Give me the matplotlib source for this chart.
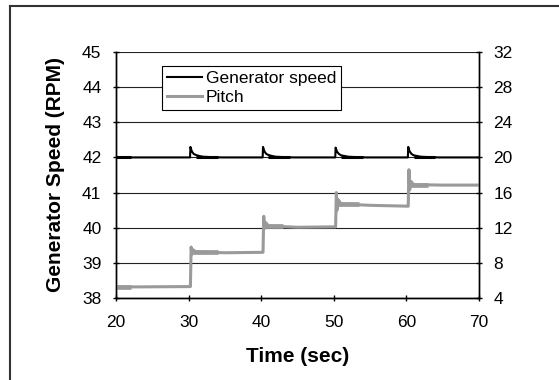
import matplotlib
matplotlib.use("Agg")
import matplotlib.pyplot as plt
from matplotlib.lines import Line2D

plt.rcParams['font.family'] = ['Liberation Sans', 'DejaVu Sans']

# generator speed (RPM), left axis
gen_time = [20.0, 30.2, 30.25, 30.45, 30.7, 31.0, 31.5, 32.0, 33.0, 34.5,
            40.2, 40.25, 40.45, 40.7, 41.0, 41.5, 42.0, 43.0, 44.5,
            50.2, 50.25, 50.45, 50.7, 51.0, 51.5, 52.0, 53.0, 54.5,
            60.2, 60.25, 60.45, 60.7, 61.0, 61.5, 62.0, 63.0, 64.5, 70.0]
gen_speed = [42.0, 42.0, 42.3, 42.17, 42.1, 42.07, 42.04, 42.02, 42.01, 42.0,
             42.0, 42.3, 42.17, 42.1, 42.07, 42.04, 42.02, 42.01, 42.0,
             42.0, 42.28, 42.16, 42.1, 42.06, 42.04, 42.02, 42.01, 42.0,
             42.0, 42.3, 42.17, 42.1, 42.06, 42.04, 42.02, 42.01, 42.0, 42.0]
# noisy stretches of generator speed (start, end, level)
gen_band_start = [20.0, 31.0, 41.0, 51.0, 61.0]
gen_band_end = [22.0, 34.0, 44.0, 54.0, 64.0]
gen_band_level = [42.0, 42.015, 42.015, 42.015, 42.015]

# pitch (deg), right axis
pitch_time = [20.0, 30.25, 30.35, 30.45, 30.6, 31.0, 35.0, 40.25,
              40.35, 40.45, 40.6, 41.0, 45.0, 50.25,
              50.35, 50.45, 50.6, 51.0, 55.0, 60.25,
              60.35, 60.45, 60.6, 61.0, 65.0, 70.0]
pitch_deg = [5.25, 5.3, 9.8, 9.0, 9.5, 9.25, 9.15, 9.2,
             13.3, 11.9, 12.6, 12.2, 12.05, 12.1,
             16.0, 14.0, 15.2, 14.7, 14.55, 14.45,
             18.6, 16.3, 17.3, 16.9, 16.85, 16.85]
pitch_band_start = [20.0, 30.5, 40.5, 50.5, 60.5]
pitch_band_end = [22.0, 34.0, 43.0, 53.5, 63.0]
pitch_band_level = [5.25, 9.25, 12.15, 14.65, 16.9]

x_ticks = [20, 30, 40, 50, 60, 70]
left_ticks = [38, 39, 40, 41, 42, 43, 44, 45]
right_ticks = [4, 8, 12, 16, 20, 24, 28, 32]

fig = plt.figure(figsize=(5.59, 3.80), dpi=100)
ax = fig.add_axes([116/559, 82/380, 363/559, 246/380])
ax2 = ax.twinx()

gray = '#9a9a9a'
l1, = ax.plot(gen_time, gen_speed, color='black', lw=1.5, zorder=3)
ax.hlines(gen_band_level, gen_band_start, gen_band_end, color='black', lw=2.2, zorder=3)
l2, = ax2.plot(pitch_time, pitch_deg, color=gray, lw=2.2)
ax2.hlines(pitch_band_level, pitch_band_start, pitch_band_end, color=gray, lw=3.4)

ax.set_xlim(20, 70)
ax.set_ylim(38, 45)
ax2.set_ylim(4, 32)
ax.set_xticks(x_ticks)
ax.set_yticks(left_ticks)
ax2.set_yticks(right_ticks)
ax.grid(axis='y', color='#222222', lw=0.8)
ax.set_axisbelow(True)

ax.spines['top'].set_visible(False)
ax2.spines['top'].set_visible(False)
for a in [ax, ax2]:
    for s in a.spines.values():
        s.set_linewidth(1.0)

ax.tick_params(axis='both', direction='inout', length=5, width=1.0, labelsize=12.5)
ax.tick_params(axis='y', pad=8)
ax.tick_params(axis='x', pad=10)
ax2.tick_params(axis='y', direction='inout', length=5, width=1.0, labelsize=12.5, pad=8)

ax.set_xlabel('Time (sec)', fontsize=15, fontweight='bold', labelpad=12)
ax.set_ylabel('Generator Speed (RPM)', fontsize=15, fontweight='bold', labelpad=12)

leg = ax.legend([l1, l2], ['Generator speed', 'Pitch'], loc='upper left',
                bbox_to_anchor=(0.127, 0.943), borderaxespad=0, fontsize=12.5,
                fancybox=False, framealpha=1, edgecolor='black',
                handlelength=2.0, handletextpad=0.2, borderpad=0.3, labelspacing=0.2)
leg.get_frame().set_linewidth(0.8)
leg.set_zorder(5)

# outer chart border (only top and left edges visible)
fig.add_artist(Line2D([10/559, 10/559], [0, 1 - 6/380], color='#333333', lw=1.5))
fig.add_artist(Line2D([10/559, 1], [1 - 6/380, 1 - 6/380], color='#333333', lw=1.5))

fig.savefig('out.png', dpi=100)
